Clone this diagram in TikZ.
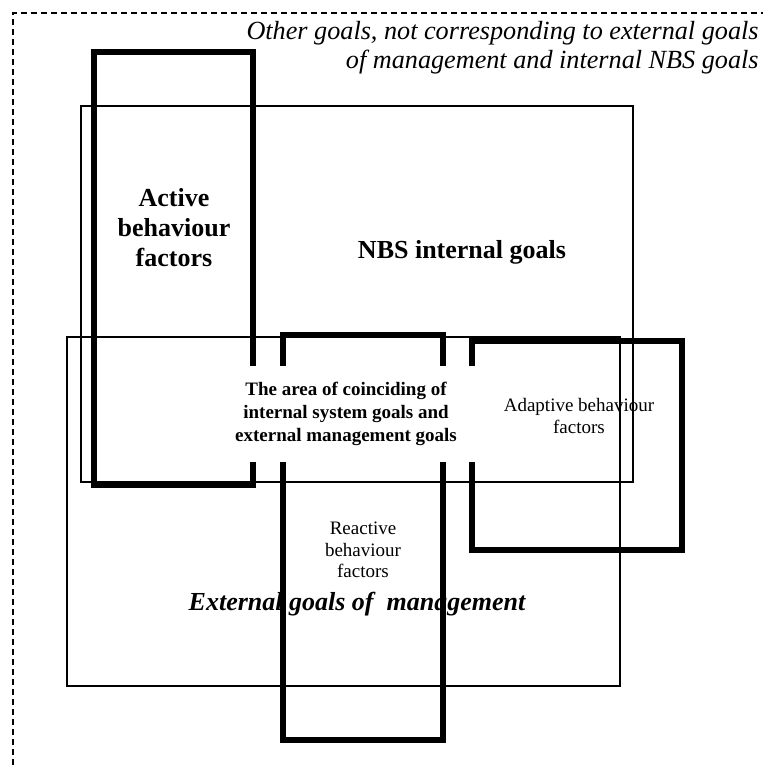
\documentclass[tikz,border=0pt]{standalone}
\usepackage{fontspec}
\setmainfont{Liberation Serif}

\begin{document}
\begin{tikzpicture}[
          x=0.5pt, y=-0.5pt,
          every node/.style={align=center, inner sep=0pt},
          thinbox/.style={draw, line width=0.7pt},
          thickbox/.style={draw, line width=2.75pt},
          frame/.style={draw, line width=0.6pt, dash pattern=on 3pt off 2pt},
          boldlbl/.style={font=\fontsize{13}{15}\selectfont\bfseries},
          smalllbl/.style={font=\fontsize{9.5}{10.8}\selectfont}
        ]
        \useasboundingbox (0,0) rectangle (763,765);

        % outer dashed frame (runs off the page right and bottom)
        \draw[frame] (13,765) |- (763,13);

        % goal areas
        \draw[thinbox] (81,106) rectangle (633,482);
        \draw[thinbox] (67,337) rectangle (620,686);

        % behaviour factors
        \draw[thickbox] (94,52) rectangle (253,485);
        \draw[thickbox] (283,335) rectangle (443,740);
        \draw[thickbox] (472,341) rectangle (682,550);

        \node[anchor=east, align=right, font=\fontsize{13.1}{14.5}\selectfont\itshape] (other) at (759,48)
            {Other goals, not corresponding to external goals\\ of management and internal NBS goals};
        \node[boldlbl] (active) at (174,228) {Active\\ behaviour\\ factors};
        \node[boldlbl] (nbs) at (462,252) {NBS internal goals};
        \node[fill=white, minimum width=132pt, minimum height=48pt,
              font=\fontsize{9.5}{11.3}\selectfont\bfseries] (area) at (346,414)
            {The area of coinciding of\\ internal system goals and\\ external management goals};
        \node[smalllbl] (adaptive) at (579,416) {Adaptive behaviour\\ factors};
        \node[smalllbl] (reactive) at (363,550) {Reactive\\ behaviour\\ factors};
        \node[font=\fontsize{13}{15}\selectfont\bfseries\itshape] (external) at (357,604)
            {External goals of \ management};
\end{tikzpicture}
\end{document}
